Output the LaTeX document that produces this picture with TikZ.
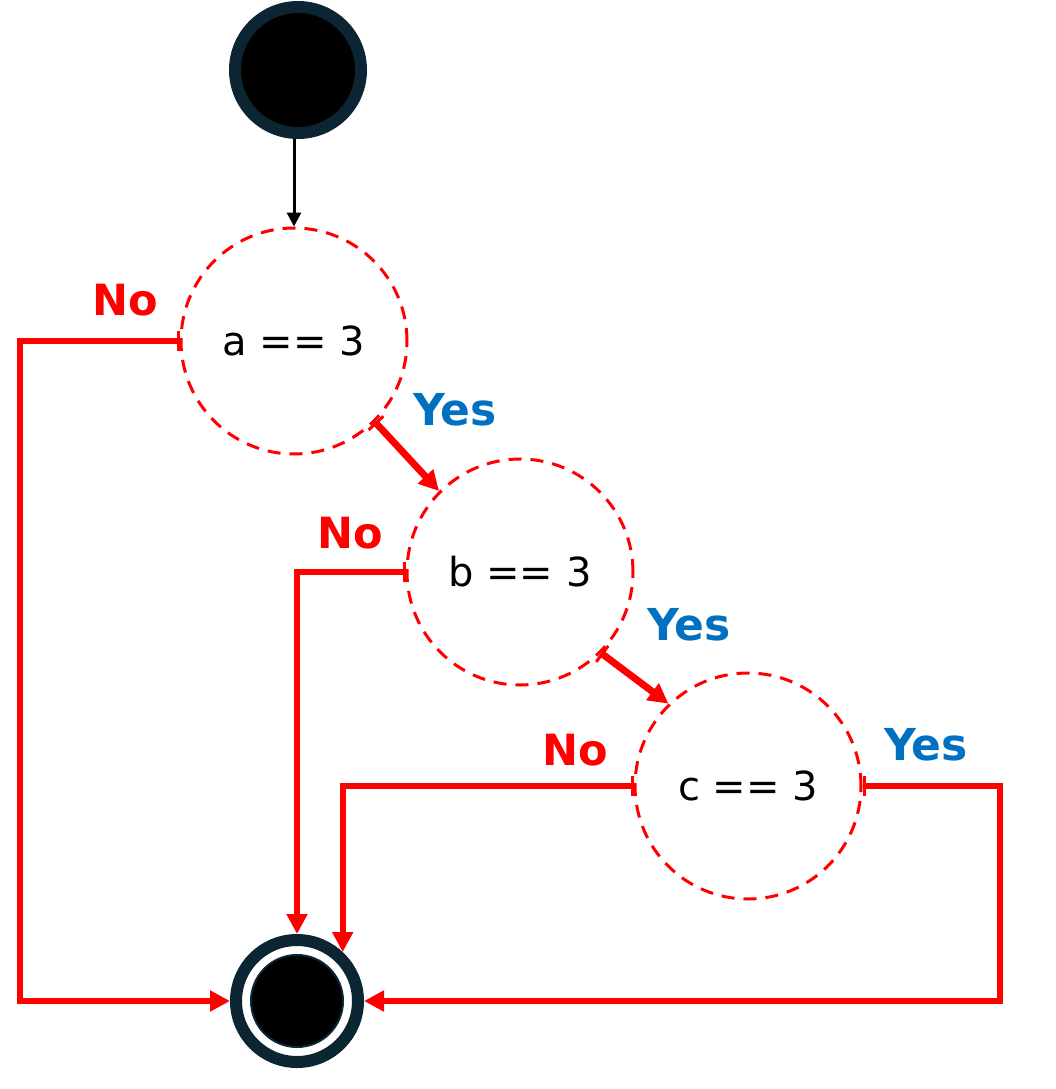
\documentclass[tikz,border=0pt]{standalone}
\usepackage{fontspec}
\setmainfont{DejaVu Sans}
\usetikzlibrary{arrows.meta}
\definecolor{darkring}{HTML}{0B2533}
\definecolor{yesblue}{HTML}{0070C0}
\definecolor{nored}{HTML}{FF0000}
\newcommand{\condtext}[1]{\raisebox{-4pt}{#1}}
\tikzset{
  decision/.style={circle, draw=nored, dashed, dash pattern=on 13pt off 9pt, line width=3pt,
    minimum size=226pt, inner sep=0pt, font=\fontsize{40}{44}\selectfont},
  startnode/.style={circle, draw=darkring, line width=12pt, fill=black, minimum size=126pt, inner sep=0pt},
  endouter/.style={circle, draw=darkring, line width=12pt, fill=white, minimum size=122pt, inner sep=0pt},
  endinner/.style={circle, draw=darkring, line width=2pt, fill=black, minimum size=92pt, inner sep=0pt},
  flow/.style={draw=nored, line width=6pt, {Bar[width=20pt,line width=3pt]}-{Triangle[length=20pt,width=20pt]}},
  yesflow/.style={flow, line width=7pt},
  nolabel/.style={text=nored, font=\fontsize{43}{47}\selectfont\bfseries},
  yeslabel/.style={text=yesblue, font=\fontsize{44}{48}\selectfont\bfseries},
}
\begin{document}
\begin{tikzpicture}[x=1pt,y=-1pt]
\useasboundingbox (0,0) rectangle (1055,1089);
\node[startnode] (start) at (298,70) {};
\node[decision] (a) at (294,341) {\condtext{a == 3}};
\node[decision] (b) at (520,572) {\condtext{b == 3}};
\node[decision] (c) at (748,786) {\condtext{c == 3}};
\node[endouter] (end) at (297,1001) {};
\node[endinner] (endin) at (297,1001) {};
\coordinate (la) at (20,341);
\coordinate (rc) at (1000,786);

\draw[black, line width=3pt, -{Triangle[length=14pt,width=14pt]}] (a.north |- start.south) -- (a.north);

\draw[flow] (a.west) -- (la) |- (end.west);
\draw[flow] (b.west) -| (end.north);
\draw[flow] (c.west) -| (end.47);
\draw[flow] (c.east) -- (rc) |- (end.east);
\draw[yesflow] (a.-45) -- (b.135);
\draw[yesflow] (b.-45) -- (c.134);

\node[nolabel] (no1) at (125,300) {No};
\node[nolabel] (no2) at (350,533) {No};
\node[nolabel] (no3) at (575,750) {No};
\node[yeslabel] (yes1) at (455,410) {Yes};
\node[yeslabel] (yes2) at (689,625) {Yes};
\node[yeslabel] (yes3) at (926,745) {Yes};
\end{tikzpicture}
\end{document}
